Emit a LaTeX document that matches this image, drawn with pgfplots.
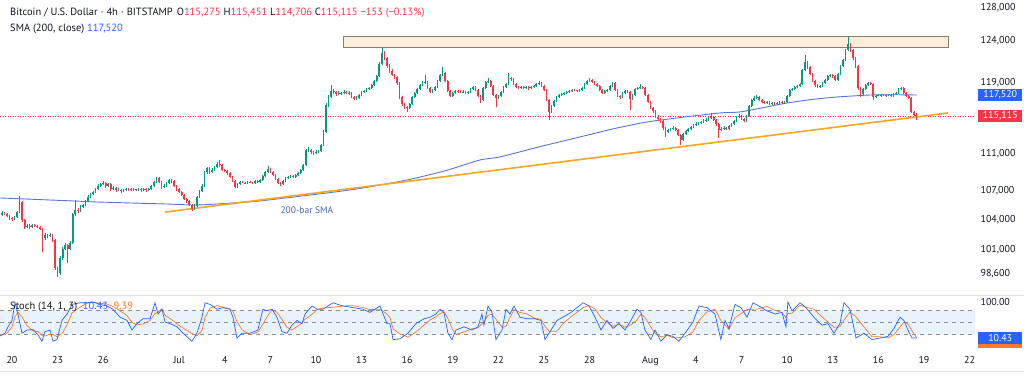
\documentclass[border=0pt]{standalone}
\usepackage{pgfplots}
\usepackage{pgfplotstable}
\pgfplotsset{compat=1.18}
\usepackage{fontspec}
\setmainfont{PT Sans}
\definecolor{upc}{RGB}{8,153,129}
\definecolor{downc}{RGB}{242,54,69}
\definecolor{smac}{RGB}{85,120,215}
\definecolor{trendc}{RGB}{245,166,35}
\definecolor{boxfill}{RGB}{254,237,219}
\definecolor{boxdraw}{RGB}{140,125,110}
\definecolor{kc}{RGB}{41,98,255}
\definecolor{dc}{RGB}{255,120,40}
\definecolor{bandc}{RGB}{232,243,253}
\definecolor{dashc}{RGB}{140,143,150}
\definecolor{txt}{RGB}{19,23,34}
\definecolor{lblue}{RGB}{41,98,255}
\definecolor{sepc}{RGB}{224,227,235}

\pgfplotstableread{
i o h l c
0 104.50 104.85 104.40 104.67
1 104.67 104.80 104.45 104.57
2 104.57 104.65 104.25 104.36
3 104.36 104.45 103.95 104.15
4 104.15 104.30 103.90 104.05
5 104.05 104.40 103.95 104.25
6 104.25 104.90 104.15 104.77
7 104.77 106.44 104.70 105.81
8 105.81 105.95 103.80 103.95
9 103.95 104.10 103.05 103.24
10 103.24 103.55 103.10 103.34
11 103.34 103.50 103.05 103.24
12 103.24 103.60 103.15 103.44
13 103.44 103.55 103.20 103.34
14 103.34 103.45 103.10 103.24
15 103.24 103.35 102.90 103.04
16 103.04 103.15 100.73 102.13
17 102.13 102.60 101.95 102.43
18 102.43 102.55 102.10 102.33
19 102.33 102.65 102.20 102.43
20 102.43 102.50 101.70 101.93
21 101.93 102.00 99.00 99.15
22 99.15 99.30 98.27 98.67
23 98.67 100.30 98.50 100.14
24 100.14 101.20 100.00 101.03
25 101.03 101.60 100.90 101.43
26 101.43 101.55 99.65 101.03
27 101.03 101.80 100.90 101.63
28 101.63 104.70 101.50 104.57
29 104.57 106.02 104.40 104.98
30 104.98 105.20 104.70 104.90
31 104.90 105.45 104.80 105.29
32 105.29 105.65 105.15 105.50
33 105.50 106.05 105.40 105.92
34 105.92 106.50 105.80 106.33
35 106.33 106.80 106.20 106.64
36 106.64 107.00 106.50 106.85
37 106.85 107.30 106.70 107.17
38 107.17 107.65 107.05 107.49
39 107.49 107.85 107.35 107.70
40 107.70 108.02 107.55 107.80
41 107.80 107.90 107.30 107.49
42 107.49 107.85 107.35 107.70
43 107.70 107.80 107.00 107.17
44 107.17 107.45 107.05 107.28
45 107.28 107.40 106.90 107.06
46 107.06 107.25 106.95 107.10
47 107.10 107.20 106.80 106.96
48 106.96 107.20 106.85 107.06
49 107.06 107.30 106.95 107.17
50 107.17 107.25 106.95 107.06
51 107.06 107.30 106.95 107.17
52 107.17 107.25 107.00 107.12
53 107.12 107.20 106.95 107.06
54 107.06 107.30 106.95 107.17
55 107.17 107.25 106.90 107.06
56 107.06 107.30 106.95 107.17
57 107.17 107.25 106.90 107.06
58 107.06 107.30 106.95 107.17
59 107.17 107.60 107.05 107.49
60 107.49 108.05 107.40 107.91
61 107.91 108.45 107.80 108.33
62 108.33 108.40 107.75 107.91
63 107.91 108.00 107.20 107.38
64 107.38 107.65 107.25 107.49
65 107.49 107.95 107.40 107.80
66 107.80 108.25 107.70 108.12
67 108.12 108.20 107.85 108.02
68 108.02 108.10 107.35 107.49
69 107.49 107.60 107.00 107.17
70 107.17 107.25 106.70 106.85
71 106.85 106.95 106.40 106.54
72 106.54 106.65 106.00 106.12
73 106.12 106.25 105.75 105.92
74 105.92 106.00 105.35 105.50
75 105.50 105.60 104.88 105.08
76 105.08 105.55 104.95 105.39
77 105.39 106.45 105.30 106.33
78 106.33 107.10 106.20 106.96
79 106.96 107.65 106.85 107.49
80 107.49 109.10 107.40 108.97
81 108.97 109.55 108.80 109.40
82 109.40 109.50 108.80 108.97
83 108.97 109.35 108.85 109.19
84 109.19 109.65 109.05 109.51
85 109.51 110.00 109.40 109.83
86 109.83 110.26 109.55 109.72
87 109.72 109.80 109.05 109.19
88 109.19 109.30 108.95 109.08
89 109.08 109.20 108.70 108.87
90 108.87 108.95 108.30 108.44
91 108.44 108.55 107.90 108.02
92 108.02 108.10 107.25 107.38
93 107.38 107.85 107.25 107.70
94 107.70 108.05 107.60 107.91
95 107.91 108.00 107.75 107.85
96 107.85 107.95 107.70 107.80
97 107.80 108.05 107.70 107.91
98 107.91 108.00 107.75 107.86
99 107.86 107.95 107.65 107.80
100 107.80 108.15 107.70 108.02
101 108.02 108.10 107.80 107.91
102 107.91 108.25 107.80 108.12
103 108.12 108.65 108.00 108.54
104 108.54 109.10 108.45 108.97
105 108.97 109.62 108.85 109.29
106 109.29 109.40 108.85 108.97
107 108.97 109.05 108.50 108.65
108 108.65 108.75 108.10 108.23
109 108.23 108.30 107.65 107.80
110 107.80 107.90 107.49 107.70
111 107.70 108.15 107.60 108.02
112 108.02 108.45 107.95 108.33
113 108.33 108.55 108.25 108.44
114 108.44 108.65 108.35 108.54
115 108.54 108.65 108.30 108.44
116 108.44 108.80 108.35 108.65
117 108.65 109.00 108.55 108.87
118 108.87 109.30 108.75 109.19
119 109.19 109.85 109.10 109.72
120 109.72 111.50 109.65 111.34
121 111.34 111.65 111.15 111.40
122 111.40 111.50 110.95 111.12
123 111.12 111.25 110.85 111.02
124 111.02 111.30 110.90 111.12
125 111.12 111.40 111.00 111.23
126 111.23 112.05 111.10 111.89
127 111.89 113.50 111.80 113.33
128 113.33 116.60 113.20 116.37
129 116.37 117.50 116.20 117.29
130 117.29 118.68 117.15 117.98
131 117.98 118.20 117.60 117.87
132 117.87 117.95 117.40 117.64
133 117.64 117.95 117.50 117.75
134 117.75 117.90 117.55 117.70
135 117.70 118.05 117.60 117.87
136 117.87 118.00 117.65 117.80
137 117.80 117.95 117.55 117.75
138 117.75 117.85 117.15 117.29
139 117.29 117.40 116.90 117.06
140 117.06 117.35 116.95 117.18
141 117.18 117.65 117.05 117.52
142 117.52 118.00 117.40 117.87
143 117.87 118.15 117.75 117.98
144 117.98 118.35 117.85 118.21
145 118.21 118.50 118.10 118.33
146 118.33 118.85 118.20 118.68
147 118.68 119.30 118.55 119.14
148 119.14 119.90 119.00 119.73
149 119.73 121.40 119.60 121.15
150 121.15 123.07 121.00 122.47
151 122.47 122.70 121.60 121.86
152 121.86 122.00 120.70 120.91
153 120.91 121.10 120.10 120.32
154 120.32 120.60 119.70 119.85
155 119.85 120.00 119.40 119.62
156 119.62 119.75 118.70 118.91
157 118.91 119.00 117.10 117.29
158 117.29 117.40 116.30 116.49
159 116.49 116.60 115.90 116.15
160 116.15 116.30 115.58 116.04
161 116.04 116.65 115.90 116.49
162 116.49 117.40 116.35 117.29
163 117.29 117.90 117.15 117.75
164 117.75 118.35 117.60 118.21
165 118.21 118.80 118.10 118.68
166 118.68 119.10 118.55 118.91
167 118.91 119.85 118.80 119.03
168 119.03 119.15 118.20 118.33
169 118.33 118.45 117.70 117.87
170 117.87 118.25 117.75 118.10
171 118.10 118.60 118.00 118.45
172 118.45 119.30 118.35 119.14
173 119.14 120.00 119.00 119.85
174 119.85 120.79 119.70 120.08
175 120.08 120.20 119.00 119.14
176 119.14 119.25 117.85 117.98
177 117.98 118.10 117.25 117.41
178 117.41 117.90 117.30 117.75
179 117.75 118.10 117.65 117.98
180 117.98 118.10 117.80 117.95
181 117.95 118.05 117.75 117.87
182 117.87 118.05 117.75 117.90
183 117.90 117.95 117.60 117.75
184 117.75 118.00 117.65 117.87
185 117.87 118.35 117.75 118.21
186 118.21 118.60 118.10 118.45
187 118.45 118.55 117.95 118.10
188 118.10 118.20 117.30 117.41
189 117.41 117.50 116.60 116.95
190 116.95 118.45 116.85 118.33
191 118.33 119.20 118.20 119.03
192 119.03 119.50 118.90 119.14
193 119.14 119.25 118.40 118.56
194 118.56 118.65 117.40 117.52
195 117.52 117.60 116.15 117.18
196 117.18 117.55 117.05 117.41
197 117.41 118.00 117.30 117.87
198 117.87 118.60 117.75 118.45
199 118.45 118.95 118.35 118.80
200 118.80 120.08 118.70 119.50
201 119.50 119.65 119.20 119.38
202 119.38 119.45 118.65 118.80
203 118.80 118.90 118.30 118.45
204 118.45 118.55 118.20 118.33
205 118.33 118.60 118.20 118.45
206 118.45 118.55 118.20 118.33
207 118.33 118.60 118.20 118.45
208 118.45 118.55 118.15 118.33
209 118.33 118.60 118.20 118.45
210 118.45 118.70 118.35 118.56
211 118.56 118.95 118.45 118.80
212 118.80 119.10 118.70 118.91
213 118.91 119.00 118.45 118.56
214 118.56 118.65 117.95 118.10
215 118.10 118.20 116.80 116.95
216 116.95 117.05 114.68 115.58
217 115.58 116.40 115.45 116.26
218 116.26 116.95 116.15 116.83
219 116.83 117.40 116.70 117.29
220 117.29 117.65 117.20 117.52
221 117.52 117.80 117.45 117.64
222 117.64 117.90 117.55 117.75
223 117.75 118.00 117.65 117.87
224 117.87 118.10 117.80 117.98
225 117.98 118.25 117.90 118.10
226 118.10 118.20 117.95 118.05
227 118.05 118.15 117.85 117.98
228 117.98 118.25 117.90 118.10
229 118.10 118.45 118.00 118.33
230 118.33 118.95 118.25 118.80
231 118.80 119.30 118.70 119.14
232 119.14 119.50 119.05 119.26
233 119.26 119.35 118.90 119.03
234 119.03 119.10 118.65 118.80
235 118.80 118.90 118.40 118.56
236 118.56 118.65 117.95 118.10
237 118.10 118.20 117.60 117.75
238 117.75 118.10 117.65 117.98
239 117.98 118.25 117.90 118.10
240 118.10 118.70 118.00 118.56
241 118.56 119.05 118.45 118.91
242 118.91 119.00 117.95 118.10
243 118.10 118.20 117.25 117.41
244 117.41 117.50 117.10 117.29
245 117.29 117.90 117.20 117.75
246 117.75 118.10 117.65 117.98
247 117.98 118.05 117.75 117.87
248 117.87 117.95 115.81 117.06
249 117.06 117.65 116.90 117.52
250 117.52 118.35 117.40 118.21
251 118.21 118.45 118.10 118.33
252 118.33 118.80 118.25 118.45
253 118.45 118.55 118.20 118.33
254 118.33 118.40 117.35 117.52
255 117.52 117.60 116.55 116.72
256 116.72 116.85 115.90 116.04
257 116.04 116.15 115.50 115.70
258 115.70 115.80 114.85 115.01
259 115.01 115.20 114.60 114.79
260 114.79 114.90 114.35 114.57
261 114.57 114.65 113.60 113.78
262 113.78 113.90 112.78 113.33
263 113.33 113.70 113.20 113.56
264 113.56 113.80 113.45 113.67
265 113.67 113.95 113.55 113.78
266 113.78 113.90 113.40 113.56
267 113.56 113.65 112.85 113.00
268 113.00 113.10 111.89 112.45
269 112.45 113.25 112.35 113.11
270 113.11 113.60 113.00 113.45
271 113.45 113.80 113.35 113.67
272 113.67 114.00 113.55 113.89
273 113.89 114.25 113.80 114.11
274 114.11 114.40 114.00 114.22
275 114.22 114.50 114.10 114.34
276 114.34 114.60 114.20 114.45
277 114.45 114.75 114.35 114.57
278 114.57 114.85 114.45 114.68
279 114.68 115.05 114.55 114.90
280 114.90 115.47 114.80 115.01
281 115.01 115.10 114.55 114.68
282 114.68 114.80 114.05 114.22
283 114.22 114.30 112.67 113.56
284 113.56 113.85 113.40 113.67
285 113.67 113.95 113.55 113.78
286 113.78 113.90 113.55 113.70
287 113.70 114.15 113.60 114.00
288 114.00 114.35 113.90 114.22
289 114.22 114.70 114.10 114.57
290 114.57 115.15 114.45 115.01
291 115.01 115.30 114.90 115.12
292 115.12 115.20 114.65 114.79
293 114.79 114.90 114.40 114.57
294 114.57 115.25 114.45 115.12
295 115.12 116.40 115.00 116.26
296 116.26 117.10 116.15 116.95
297 116.95 117.35 116.85 117.18
298 117.18 117.52 117.05 117.29
299 117.29 117.40 116.80 116.95
300 116.95 117.05 116.55 116.72
301 116.72 116.80 116.45 116.60
302 116.60 116.85 116.50 116.72
303 116.72 116.80 116.35 116.49
304 116.49 116.75 116.40 116.60
305 116.60 116.70 116.35 116.49
306 116.49 116.75 116.40 116.60
307 116.60 116.85 116.50 116.72
308 116.72 116.80 116.45 116.60
309 116.60 116.85 116.50 116.72
310 116.72 117.55 116.60 117.41
311 117.41 118.25 117.30 118.10
312 118.10 118.35 118.00 118.21
313 118.21 118.60 118.10 118.45
314 118.45 118.70 118.35 118.56
315 118.56 118.95 118.45 118.80
316 118.80 120.60 118.70 120.44
317 120.44 122.21 120.30 121.39
318 121.39 121.50 120.60 120.79
319 120.79 120.90 119.80 119.97
320 119.97 120.10 119.00 119.14
321 119.14 119.25 118.50 118.68
322 118.68 118.80 118.30 118.45
323 118.45 118.70 118.35 118.56
324 118.56 119.05 118.45 118.91
325 118.91 119.40 118.80 119.26
326 119.26 119.90 119.15 119.73
327 119.73 120.00 119.65 119.85
328 119.85 119.95 119.55 119.73
329 119.73 119.85 119.10 119.26
330 119.26 120.10 119.15 119.97
331 119.97 121.05 119.85 120.91
332 120.91 121.80 120.80 121.63
333 121.63 123.00 121.50 122.83
334 122.83 124.45 122.70 123.56
335 123.56 123.70 122.60 122.83
336 122.83 122.95 121.65 121.86
337 121.86 122.00 120.70 120.91
338 120.91 121.00 118.15 118.33
339 118.33 118.45 117.29 117.64
340 117.64 118.35 117.50 118.21
341 118.21 118.80 118.10 118.68
342 118.68 119.05 118.55 118.91
343 118.91 119.00 118.65 118.80
344 118.80 118.90 116.95 117.29
345 117.29 117.55 117.15 117.41
346 117.41 117.65 117.35 117.52
347 117.52 117.60 117.30 117.41
348 117.41 117.65 117.35 117.52
349 117.52 117.60 117.30 117.41
350 117.41 117.65 117.35 117.52
351 117.52 117.60 117.30 117.41
352 117.41 117.75 117.30 117.64
353 117.64 117.90 117.55 117.75
354 117.75 118.35 117.65 118.21
355 118.21 118.50 118.15 118.33
356 118.33 118.40 117.60 117.75
357 117.75 117.85 117.30 117.41
358 117.41 117.50 117.05 117.18
359 117.18 117.25 115.45 115.58
360 115.58 115.70 115.10 115.275
361 115.275 115.451 114.706 115.115
}\candles

\begin{document}
\begin{tikzpicture}[x=1pt,y=1pt]
\path[use as bounding box] (0pt,0pt) rectangle (1024pt,-375pt);
\fill[white] (0pt,0pt) rectangle (1024pt,-375pt);

% ---------------- main price panel
\begin{axis}[
  at={(0pt,0pt)}, anchor=north west, scale only axis,
  width=975pt, height=294pt,
  xmin=-0.789, xmax=63.36,
  ymode=log, ymin=96.68, ymax=129.01,
  axis line style={draw=none}, tick style={draw=none},
  xtick=\empty,
  ytick={98.6,101,104,107,111,119,124,128},
  yticklabels={{98,600},{101,000},{104,000},{107,000},{111,000},{119,000},{124,000},{128,000}},
  yticklabel pos=right,
  yticklabel style={xshift=2pt, text=txt, font=\fontsize{10}{12}\selectfont},
  minor ytick={},
  clip mode=individual,
]
% resistance zone
\draw[fill=boxfill, draw=boxdraw, line width=0.8pt] (axis cs:21.78,123.19) rectangle (axis cs:61.58,124.53);
% last price dotted line
\addplot[downc, line width=0.6pt, dash pattern=on 1pt off 1.5pt] coordinates {(-0.789,115.115) (63.36,115.115)};
% 200 SMA
\addplot[smac, line width=0.9pt, smooth, tension=0.4] coordinates {
(-0.79,106.23) (4.01,105.92) (5.59,105.81) (10.2,105.6) (12.17,105.5) (14.54,105.71)
(16.32,105.92) (20.72,106.75) (23.0,107.25) (25.99,108.12) (28.5,109.1) (30.79,110.26)
(32.1,110.59) (34.7,111.7) (37.37,112.78) (39.6,113.7) (41.78,114.45) (44.2,115.0)
(46.58,115.47) (47.89,115.58) (49.5,116.1) (50.99,116.6) (52.6,117.0) (54.28,117.29)
(56.45,117.52) (58.0,117.55) (59.54,117.52)};
% rising support line
\addplot[trendc, line width=1.6pt] coordinates {(10.07,104.77) (61.58,115.47)};
% candles: wicks
\addplot[draw=none, mark=none, forget plot,
  x filter/.expression={\thisrow{c}<\thisrow{o} ? nan : x},
  error bars/.cd, y dir=plus, y explicit, error mark=none,
  error bar style={draw=upc, line width=0.6pt}]
  table[x expr={\thisrow{i}/6-0.667}, y=l, y error plus expr={\thisrow{h}-\thisrow{l}}] {\candles};
\addplot[draw=none, mark=none, forget plot,
  x filter/.expression={\thisrow{c}<\thisrow{o} ? x : nan},
  error bars/.cd, y dir=plus, y explicit, error mark=none,
  error bar style={draw=downc, line width=0.6pt}]
  table[x expr={\thisrow{i}/6-0.667}, y=l, y error plus expr={\thisrow{h}-\thisrow{l}}] {\candles};
% candles: bodies
\addplot[draw=none, mark=none, forget plot,
  x filter/.expression={\thisrow{c}<\thisrow{o} ? nan : x},
  error bars/.cd, y dir=plus, y explicit, error mark=none,
  error bar style={draw=upc, line width=1.7pt}]
  table[x expr={\thisrow{i}/6-0.667}, y expr={min(\thisrow{o},\thisrow{c})},
        y error plus expr={max(abs(\thisrow{c}-\thisrow{o}),0.04)}] {\candles};
\addplot[draw=none, mark=none, forget plot,
  x filter/.expression={\thisrow{c}<\thisrow{o} ? x : nan},
  error bars/.cd, y dir=plus, y explicit, error mark=none,
  error bar style={draw=downc, line width=1.7pt}]
  table[x expr={\thisrow{i}/6-0.667}, y expr={min(\thisrow{o},\thisrow{c})},
        y error plus expr={max(abs(\thisrow{c}-\thisrow{o}),0.04)}] {\candles};
% annotations
\node[text=smac!85!black, font=\fontsize{9.5}{11}\selectfont] at (axis cs:19.4,104.98) {200-bar SMA};
\node[fill=lblue, text=white, anchor=west, minimum width=44pt, minimum height=12.5pt, inner sep=0pt,
      font=\fontsize{10}{12}\selectfont] at (axis cs:63.36,117.52) [xshift=3pt] {117,520};
\node[fill=downc, text=white, anchor=west, minimum width=44pt, minimum height=12.5pt, inner sep=0pt,
      font=\fontsize{10}{12}\selectfont] at (axis cs:63.36,115.115) [xshift=3pt] {115,115};
\end{axis}

% ---------------- stochastic panel
\begin{axis}[
  at={(0pt,-295pt)}, anchor=north west, scale only axis,
  width=975pt, height=55pt,
  xmin=-0.789, xmax=63.36, ymin=-20, ymax=117.5,
  axis line style={draw=none}, tick style={draw=none},
  xtick={0,3,6,11,14,17,20,23,26,29,32,35,38,42,45,48,51,54,57,60,63},
  xticklabels={20,23,26,Jul,4,7,10,13,16,19,22,25,28,Aug,4,7,10,13,16,19,22},
  xticklabel style={text=txt, font=\fontsize{10}{12}\selectfont, yshift=-3pt},
  ytick={100}, yticklabels={100.00},
  yticklabel pos=right,
  yticklabel style={xshift=2pt, text=txt, font=\fontsize{10}{12}\selectfont},
  clip mode=individual,
]
\fill[bandc] (axis cs:-0.789,20) rectangle (axis cs:63.36,80);
\addplot[dashc, line width=0.6pt, dash pattern=on 4pt off 4pt] coordinates {(-0.789,80) (63.36,80)};
\addplot[dashc, line width=0.6pt, dash pattern=on 4pt off 4pt] coordinates {(-0.789,50) (63.36,50)};
\addplot[dashc, line width=0.6pt, dash pattern=on 4pt off 4pt] coordinates {(-0.789,20) (63.36,20)};
% %D
\addplot[dc, line width=0.7pt] coordinates {
(-0.79,18) (-0.46,18) (-0.26,25) (0,38) (0.2,63) (0.39,74) (0.66,63) (0.99,41) (1.38,28) (1.71,26)
(1.97,17) (2.17,15) (2.5,19) (2.7,19) (2.96,13) (3.29,21) (3.62,43) (3.95,73) (4.47,87) (4.93,97)
(5.33,99) (5.79,97) (6.25,95) (6.64,89) (7.11,78) (7.57,66) (7.89,49) (8.22,43) (8.62,45) (9.08,54)
(9.41,71) (9.61,75) (9.87,83) (10.07,67) (10.39,59) (10.86,45) (11.25,35) (11.84,21) (12.17,15) (12.5,29)
(12.7,61) (13.03,85) (13.49,91) (13.88,87) (14.34,83) (14.54,77) (14.8,51) (15.13,31) (15.66,18) (16.18,25)
(16.51,45) (16.78,63) (17.11,81) (17.43,74) (17.76,57) (18.09,37) (18.42,30) (18.75,39) (19.08,47) (19.28,57)
(19.74,69) (20.07,81) (20.46,85) (21.12,87) (21.78,90) (22.43,91) (23.09,86) (23.55,81) (24.21,82) (24.67,70)
(24.87,61) (25.07,33) (25.53,20) (26.05,12) (26.58,25) (27.11,42) (27.5,55) (27.89,63) (28.16,71) (28.42,75)
(28.68,59) (28.95,34) (29.21,19) (29.74,25) (30.26,33) (30.66,35) (30.92,46) (31.05,50) (31.32,67) (31.58,69)
(31.84,57) (32.24,37) (32.5,39) (32.76,61) (33.03,81) (33.42,74) (33.88,70) (34.41,59) (34.8,57) (35.07,39)
(35.33,27) (35.86,27) (36.25,46) (36.78,63) (37.17,74) (37.57,86) (37.96,91) (38.36,83) (38.75,61) (39.14,49)
(39.54,39) (39.93,45) (40.33,37) (40.72,43) (41.12,55) (41.38,70) (41.64,62) (42.04,37) (42.3,22) (42.7,13)
(43.09,17) (43.49,11) (43.88,11) (44.28,13) (44.8,25) (45.2,54) (45.72,75) (46.25,82) (46.64,54) (46.91,43)
(47.17,31) (47.57,61) (47.96,71) (48.36,81) (48.75,82) (49.14,83) (49.67,89) (50.2,79) (50.66,74) (50.92,61)
(51.05,71) (51.32,72) (51.84,92) (52.24,87) (52.76,82) (53.29,63) (53.68,50) (54.08,37) (54.47,38) (54.74,55)
(55.13,75) (55.53,63) (56.05,38) (56.58,13) (57.11,13) (57.63,10) (58.03,19) (58.42,37) (58.68,50) (58.95,45)
(59.21,28) (59.54,9.39)};
% %K
\addplot[kc, line width=0.7pt] coordinates {
(-0.79,15) (-0.46,22) (-0.26,38) (0,54) (0.2,98) (0.39,70) (0.66,22) (0.99,30) (1.38,31) (1.71,18)
(1.97,2) (2.17,26) (2.5,30) (2.7,2) (2.96,6) (3.29,54) (3.62,70) (3.95,94) (4.47,98) (4.93,98)
(5.33,100) (5.79,94) (6.25,90) (6.64,82) (7.11,62) (7.57,54) (7.89,30) (8.22,46) (8.62,58) (9.08,58)
(9.41,98) (9.61,70) (9.87,82) (10.07,50) (10.39,46) (10.86,38) (11.25,22) (11.84,2) (12.17,22) (12.5,62)
(12.7,98) (13.03,94) (13.49,82) (13.88,86) (14.34,82) (14.54,62) (14.8,10) (15.13,22) (15.66,22) (16.18,30)
(16.51,82) (16.78,78) (17.11,82) (17.43,62) (17.76,26) (18.09,22) (18.42,42) (18.75,54) (19.08,46) (19.28,70)
(19.74,90) (20.07,82) (20.46,82) (21.12,98) (21.78,90) (22.43,86) (23.09,82) (23.55,74) (24.21,90) (24.67,46)
(24.87,46) (25.07,6) (25.53,8) (26.05,22) (26.58,46) (27.11,58) (27.5,62) (27.89,70) (28.16,82) (28.42,74)
(28.68,22) (28.95,6) (29.21,30) (29.74,38) (30.26,30) (30.66,38) (30.92,70) (31.05,42) (31.32,90) (31.58,74)
(31.84,6) (32.24,30) (32.5,82) (32.76,70) (33.03,90) (33.42,62) (33.88,58) (34.41,58) (34.8,54) (35.07,6)
(35.33,22) (35.86,54) (36.25,62) (36.78,74) (37.17,86) (37.57,98) (37.96,90) (38.36,62) (38.75,30) (39.14,54)
(39.54,34) (39.93,46) (40.33,30) (40.72,54) (41.12,82) (41.38,74) (41.64,30) (42.04,6) (42.3,30) (42.7,2)
(43.09,18) (43.49,14) (43.88,2) (44.28,22) (44.8,50) (45.2,90) (45.72,86) (46.25,70) (46.64,6) (46.91,54)
(47.17,34) (47.57,94) (47.96,86) (48.36,62) (48.75,98) (49.14,90) (49.67,78) (50.2,70) (50.66,74) (50.92,38)
(51.05,100) (51.32,78) (51.84,98) (52.24,86) (52.76,62) (53.29,42) (53.68,46) (54.08,22) (54.47,46) (54.74,98)
(55.13,82) (55.53,10) (56.05,22) (56.58,6) (57.11,10) (57.63,14) (58.03,34) (58.42,62) (58.68,54) (58.95,30)
(59.21,10) (59.54,10.43)};
\node[fill=dc, anchor=west, minimum width=44pt, minimum height=12.5pt, inner sep=0pt] at (axis cs:63.36,9.39) [xshift=3pt, yshift=-3pt] {};
\node[fill=lblue, text=white, anchor=west, minimum width=44pt, minimum height=12.5pt, inner sep=0pt,
      font=\fontsize{10}{12}\selectfont] at (axis cs:63.36,10.43) [xshift=3pt] {10.43};
\end{axis}

% separators
\draw[sepc, line width=0.7pt] (0pt,-295pt) -- (1024pt,-295pt);
\draw[sepc, line width=0.7pt] (0pt,-371pt) -- (1024pt,-371pt);

% header
\node[anchor=west, inner sep=0pt, font=\fontsize{10.5}{12}\selectfont, text=txt] at (10pt,-13pt)
  {Bitcoin / U.S. Dollar\hspace{3pt}·\hspace{3pt}4h\hspace{3pt}·\hspace{3pt}BITSTAMP\hspace{4pt}O\textcolor{downc}{115,275} H\textcolor{downc}{115,451} L\textcolor{downc}{114,706} C\textcolor{downc}{115,115} \textcolor{downc}{−153 (−0.13\%)}};
\node[anchor=west, inner sep=0pt, font=\fontsize{10.5}{12}\selectfont, text=txt] at (10pt,-29pt)
  {SMA (200, close) \textcolor{lblue}{117,520}};
\node[anchor=west, inner sep=0pt, font=\fontsize{10.5}{12}\selectfont, text=txt] at (10pt,-307pt)
  {Stoch (14, 1, 3)\ \ \textcolor{lblue}{10.43}\ \ \textcolor{dc}{9.39}};
\end{tikzpicture}
\end{document}
